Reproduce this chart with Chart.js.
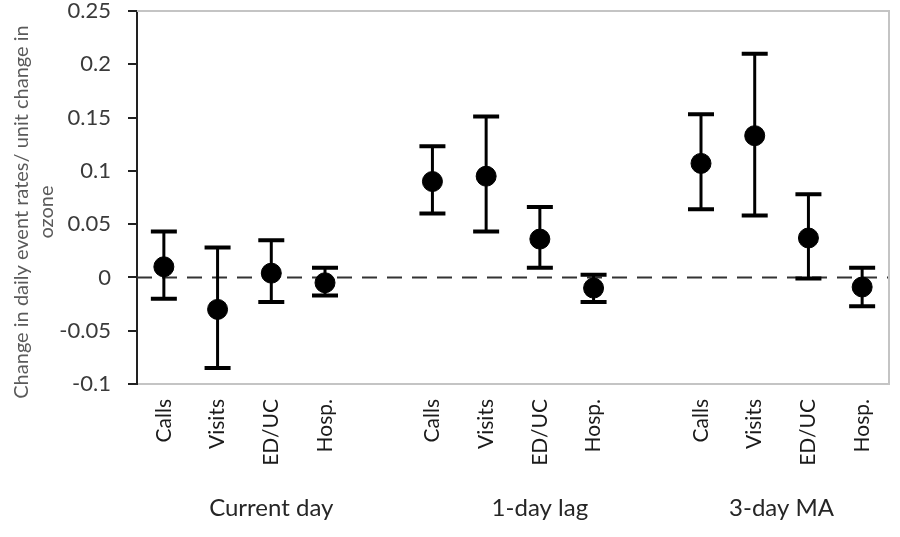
<!DOCTYPE html>
<html>
<head>
<meta charset="utf-8">
<script src="https://cdn.jsdelivr.net/npm/chart.js@4"></script>
<style>
  html, body { margin: 0; padding: 0; background: #fff; }
  #wrap { width: 900px; height: 537px; }
</style>
</head>
<body>
<div id="wrap"><canvas id="chart" width="900" height="537"></canvas></div>
<script>
// slots: 3 groups of 4 outcomes, one empty slot after the first two groups
const categories = ["Calls", "Visits", "ED/UC", "Hosp.", "", "Calls", "Visits", "ED/UC", "Hosp.", "", "Calls", "Visits", "ED/UC", "Hosp."];
const groupLabels = ["Current day", "1-day lag", "3-day MA"];
const groupCenters = [2, 7, 11.5]; // slot index where each group label sits
const estimate = [0.010, -0.030, 0.004, -0.005, null, 0.090, 0.095, 0.036, -0.010, null, 0.107, 0.133, 0.037, -0.009];
const lower = [-0.020, -0.085, -0.023, -0.017, null, 0.060, 0.043, 0.009, -0.023, null, 0.064, 0.058, -0.001, -0.027];
const upper = [0.043, 0.028, 0.035, 0.009, null, 0.123, 0.151, 0.066, 0.0025, null, 0.153, 0.210, 0.078, 0.009];
const yTicks = [-0.1, -0.05, 0, 0.05, 0.1, 0.15, 0.2, 0.25];
const yTitle = ["Change in daily event rates/ unit change in", "ozone"];

const FONT = "Lato, 'Open Sans', sans-serif";

const errorBars = {
  id: "errorBars",
  beforeDatasetsDraw(chart) {
    const { ctx, chartArea, scales: { x, y } } = chart;
    ctx.save();
    // dashed zero line
    ctx.strokeStyle = "#333";
    ctx.lineWidth = 2;
    ctx.setLineDash([15, 10]);
    ctx.beginPath();
    ctx.moveTo(chartArea.left, y.getPixelForValue(0));
    ctx.lineTo(chartArea.right, y.getPixelForValue(0));
    ctx.stroke();
    ctx.setLineDash([]);

    // whiskers
    ctx.strokeStyle = "#000";
    estimate.forEach((v, i) => {
      if (v == null) return;
      const px = x.getPixelForValue(i);
      const lo = y.getPixelForValue(lower[i]);
      const hi = y.getPixelForValue(upper[i]);
      ctx.lineWidth = 3;
      ctx.beginPath();
      ctx.moveTo(px, lo);
      ctx.lineTo(px, hi);
      ctx.stroke();
      ctx.lineWidth = 4;
      ctx.beginPath();
      ctx.moveTo(px - 13, lo); ctx.lineTo(px + 13, lo);
      ctx.moveTo(px - 13, hi); ctx.lineTo(px + 13, hi);
      ctx.stroke();
    });
    ctx.restore();
  },
  afterDraw(chart) {
    const { ctx, chartArea, scales: { x } } = chart;
    ctx.save();
    // light frame on top and right
    ctx.strokeStyle = "#c4c4c4";
    ctx.lineWidth = 2;
    ctx.beginPath();
    ctx.moveTo(chartArea.left, chartArea.top);
    ctx.lineTo(chartArea.right, chartArea.top);
    ctx.lineTo(chartArea.right, chartArea.bottom);
    ctx.stroke();
    // group labels under the outcome labels
    ctx.fillStyle = "#262626";
    ctx.font = "24px " + FONT;
    ctx.textAlign = "center";
    ctx.textBaseline = "middle";
    groupLabels.forEach((g, i) => {
      ctx.fillText(g, x.getPixelForValue(groupCenters[i]), 508);
    });
    // y axis title, two rotated lines
    ctx.fillStyle = "#5a5a5a";
    ctx.font = "20px " + FONT;
    ctx.translate(0, 212);
    ctx.rotate(-Math.PI / 2);
    ctx.fillText(yTitle[0], 0, 22);
    ctx.fillText(yTitle[1], 0, 47);
    ctx.restore();
  }
};

new Chart(document.getElementById("chart"), {
  type: "line",
  data: {
    labels: categories,
    datasets: [{
      label: "Estimate",
      data: estimate,
      showLine: false,
      pointRadius: 10,
      pointHoverRadius: 10,
      pointBackgroundColor: "#000",
      pointBorderColor: "#000"
    }]
  },
  options: {
    responsive: false,
    animation: false,
    layout: { padding: { top: 11, right: 3, left: 0, bottom: 0 } },
    plugins: {
      legend: { display: false },
      tooltip: { enabled: false }
    },
    scales: {
      x: {
        offset: true,
        grid: { display: false, drawTicks: false },
        border: { color: "#c4c4c4", width: 2 },
        ticks: {
          autoSkip: false,
          minRotation: 90,
          maxRotation: 90,
          padding: 15,
          color: "#1a1a1a",
          font: { family: FONT, size: 21 }
        },
        afterFit: (s) => { s.height = 153; s.paddingLeft = 0; s.paddingRight = 0; }
      },
      y: {
        min: -0.1,
        max: 0.25,
        afterBuildTicks: (s) => { s.ticks = yTicks.map((v) => ({ value: v })); },
        grid: { drawOnChartArea: false, drawTicks: true, tickLength: 9, color: "#222", lineWidth: 2 },
        border: { color: "#222", width: 2 },
        ticks: {
          padding: 17,
          color: "#3a3a3a",
          font: { family: FONT, size: 22 },
          callback: (v) => String(Math.round(v * 100) / 100)
        },
        afterFit: (s) => { s.width = 137; s.paddingTop = 0; s.paddingBottom = 0; }
      }
    }
  },
  plugins: [errorBars]
});
</script>
</body>
</html>
